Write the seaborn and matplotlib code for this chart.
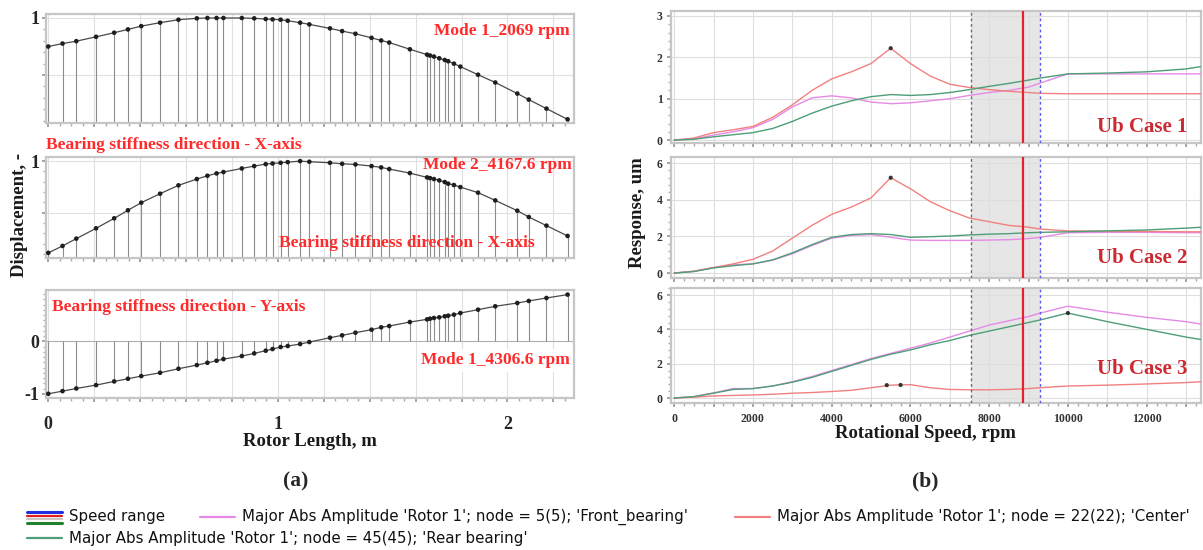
import numpy as np
import pandas as pd
import matplotlib
matplotlib.use("Agg")
import matplotlib.pyplot as plt
from matplotlib.ticker import MultipleLocator, FuncFormatter
from matplotlib.lines import Line2D
from matplotlib import font_manager
import seaborn as sns

# ---------------- data ----------------
# rotor node positions along the shaft (m)
node_pos = [0.000, 0.062, 0.122, 0.208, 0.287, 0.347, 0.405, 0.487, 0.567, 0.647,
            0.693, 0.733, 0.763, 0.843, 0.897, 0.947, 0.977, 1.012, 1.043, 1.097,
            1.137, 1.227, 1.280, 1.338, 1.408, 1.450, 1.485, 1.575, 1.650, 1.663,
            1.680, 1.703, 1.727, 1.742, 1.767, 1.795, 1.872, 1.947, 2.043, 2.093,
            2.170, 2.262]

# normalised mode shapes
mode1_x = [0.750, 0.776, 0.797, 0.835, 0.871, 0.900, 0.929, 0.959, 0.985, 0.997,
           1.000, 1.000, 1.000, 1.000, 0.997, 0.991, 0.988, 0.985, 0.976, 0.959,
           0.944, 0.909, 0.885, 0.862, 0.826, 0.803, 0.785, 0.726, 0.679, 0.671,
           0.662, 0.647, 0.632, 0.621, 0.600, 0.574, 0.503, 0.435, 0.338, 0.285,
           0.206, 0.112]
mode2_x = [0.110, 0.177, 0.248, 0.348, 0.445, 0.523, 0.597, 0.684, 0.765, 0.826,
           0.858, 0.881, 0.894, 0.929, 0.952, 0.971, 0.977, 0.984, 0.990, 1.000,
           0.994, 0.984, 0.974, 0.968, 0.952, 0.939, 0.923, 0.884, 0.842, 0.835,
           0.826, 0.813, 0.797, 0.781, 0.768, 0.748, 0.694, 0.619, 0.519, 0.458,
           0.374, 0.274]
mode1_y = [-1.000, -0.949, -0.898, -0.834, -0.764, -0.713, -0.662, -0.599, -0.522, -0.452,
           -0.408, -0.369, -0.338, -0.280, -0.229, -0.178, -0.146, -0.108, -0.089, -0.051,
           -0.013, 0.070, 0.115, 0.166, 0.223, 0.268, 0.293, 0.369, 0.420, 0.433,
           0.446, 0.459, 0.478, 0.490, 0.510, 0.541, 0.605, 0.669, 0.732, 0.771,
           0.828, 0.892]

mode_labels = ["Mode 1_2069 rpm", "Mode 2_4167.6 rpm", "Mode 1_4306.6 rpm"]

# unbalance response (um) versus rotational speed (rpm)
speed = [0, 500, 1000, 1500, 2000, 2500, 3000, 3500, 4000, 4500, 5000, 5500, 6000,
         6500, 7000, 7500, 8000, 8500, 9000, 9300, 10000, 11000, 12000, 13000, 13400]

case1_front = [0, 0.03, 0.12, 0.20, 0.30, 0.50, 0.80, 1.02, 1.07, 1.02, 0.92, 0.88, 0.90,
               0.95, 1.00, 1.08, 1.15, 1.20, 1.28, 1.38, 1.60, 1.60, 1.60, 1.60, 1.60]
case1_center = [0, 0.05, 0.18, 0.25, 0.33, 0.55, 0.85, 1.20, 1.48, 1.65, 1.85, 2.22, 1.85,
                1.55, 1.35, 1.27, 1.22, 1.18, 1.15, 1.13, 1.12, 1.12, 1.12, 1.12, 1.12]
case1_rear = [0, 0.02, 0.08, 0.13, 0.18, 0.28, 0.45, 0.65, 0.82, 0.95, 1.05, 1.10, 1.08,
              1.10, 1.15, 1.22, 1.30, 1.37, 1.45, 1.50, 1.60, 1.62, 1.65, 1.72, 1.78]

case2_front = [0, 0.10, 0.30, 0.45, 0.50, 0.70, 1.05, 1.50, 1.90, 2.05, 2.10, 1.95, 1.80,
               1.78, 1.78, 1.78, 1.80, 1.82, 1.88, 1.95, 2.20, 2.22, 2.22, 2.20, 2.20]
case2_center = [0, 0.10, 0.30, 0.50, 0.75, 1.20, 1.90, 2.60, 3.20, 3.60, 4.10, 5.20, 4.60,
                3.90, 3.40, 3.00, 2.80, 2.60, 2.50, 2.40, 2.30, 2.28, 2.27, 2.25, 2.25]
case2_rear = [0, 0.08, 0.28, 0.40, 0.50, 0.72, 1.10, 1.55, 1.95, 2.10, 2.15, 2.10, 1.95,
              1.98, 2.02, 2.08, 2.12, 2.15, 2.20, 2.22, 2.25, 2.30, 2.35, 2.45, 2.50]

case3_front = [0, 0.08, 0.30, 0.55, 0.55, 0.70, 0.95, 1.25, 1.60, 1.95, 2.30, 2.60, 2.90,
               3.20, 3.55, 3.90, 4.25, 4.50, 4.75, 4.95, 5.35, 5.00, 4.70, 4.45, 4.30]
case3_center = [0, 0.05, 0.12, 0.15, 0.18, 0.22, 0.28, 0.32, 0.38, 0.45, 0.60, 0.75, 0.78,
                0.60, 0.50, 0.48, 0.48, 0.50, 0.55, 0.60, 0.70, 0.75, 0.82, 0.90, 0.95]
case3_rear = [0, 0.08, 0.28, 0.50, 0.55, 0.70, 0.92, 1.20, 1.55, 1.90, 2.25, 2.55, 2.80,
              3.10, 3.35, 3.65, 3.90, 4.15, 4.40, 4.55, 4.95, 4.45, 4.00, 3.55, 3.40]

# peak markers (rpm, um)
peak1_rpm, peak1_amp = [5500], [2.22]
peak2_rpm, peak2_amp = [5500], [5.20]
peak3_rpm, peak3_amp = [5400, 5750, 10000], [0.75, 0.76, 4.95]

# speed range of interest (rpm)
range_low, range_crit, range_high = 7550, 8850, 9300

case_labels = ["Ub Case 1", "Ub Case 2", "Ub Case 3"]
node_names = ["Front_bearing", "Center", "Rear bearing"]
legend_texts = ["Speed range",
                "Major Abs Amplitude 'Rotor 1'; node = 5(5); 'Front_bearing'",
                "Major Abs Amplitude 'Rotor 1'; node = 22(22); 'Center'",
                "Major Abs Amplitude 'Rotor 1'; node = 45(45); 'Rear bearing'"]

# ---------------- styling ----------------
W, H = 1203, 550
sns.set_theme(style="white")
plt.rcParams["font.family"] = ["Liberation Serif", "DejaVu Serif"]

RED_TXT = "#ff2a2a"
CASE_TXT = "#cc2a33"
palette = {"Front_bearing": "#e58ae5", "Center": "#f28080", "Rear bearing": "#4e9e78"}

fig = plt.figure(figsize=(W / 100, H / 100), dpi=100)


def box(x0, y0, x1, y1):
    return [x0 / W, 1 - y1 / H, (x1 - x0) / W, (y1 - y0) / H]


def ftext(x, y, s, **kw):
    fig.text(x / W, 1 - y / H, s, **kw)


def frame(ax):
    for s in ax.spines.values():
        s.set_color("#c6c6c6")
        s.set_linewidth(1.6)
    ax.set_facecolor("white")


def int_only(v, pos):
    return f"{int(round(v))}" if abs(v - round(v)) < 1e-6 else ""


# ---------------- (a) mode shapes ----------------
left_boxes = [box(46, 14, 574, 123), box(46, 157, 574, 258), box(46, 290, 574, 398)]
left_ylims = [(0.08, 1.035), (0.06, 1.04), (-1.08, 0.98)]
left_vals = [mode1_x, mode2_x, mode1_y]

for i, (bx, yl, vals) in enumerate(zip(left_boxes, left_ylims, left_vals)):
    ax = fig.add_axes(bx)
    frame(ax)
    ax.set_xlim(-0.01, 2.29)
    ax.set_ylim(*yl)
    base = 0.0 if i == 2 else yl[0]
    ax.vlines(node_pos, base, vals, color="#8c8c8c", lw=0.8, zorder=2)
    sns.lineplot(x=node_pos, y=vals, ax=ax, color="#4a4a4a", lw=0.9,
                 sort=False, estimator=None, zorder=3)
    sns.scatterplot(x=node_pos, y=vals, ax=ax, s=11, color="#1e1e1e",
                    edgecolor="none", zorder=4)
    ax.xaxis.set_major_locator(MultipleLocator(0.2))
    ax.xaxis.set_minor_locator(MultipleLocator(0.05))
    ax.xaxis.set_major_formatter(FuncFormatter(int_only))
    if i < 2:
        ax.yaxis.set_major_locator(MultipleLocator(0.5))
        ax.yaxis.set_major_formatter(FuncFormatter(lambda v, p: "1" if abs(v - 1) < 1e-6 else ""))
        ax.grid(True, axis="both", which="major", color="#e0e0e0", lw=0.8)
    else:
        ax.yaxis.set_major_locator(MultipleLocator(1.0))
        ax.yaxis.set_major_formatter(FuncFormatter(int_only))
        ax.grid(True, axis="x", which="major", color="#e0e0e0", lw=0.8)
        ax.axhline(0, color="#b0b0b0", lw=0.8, zorder=1)
    ax.yaxis.set_minor_locator(MultipleLocator(0.1))
    ax.tick_params(axis="both", which="major", length=3, color="#999999",
                   labelsize=13, pad=2, bottom=True, left=True)
    ax.tick_params(axis="both", which="minor", length=2, color="#aaaaaa",
                   bottom=True, left=True)
    for lab in ax.get_xticklabels() + ax.get_yticklabels():
        lab.set_fontweight("bold")
    ax.tick_params(axis="x", labelbottom=(i == 2), pad=10)
    ax.set_xlabel("")
    ax.set_ylabel("")
    if i == 2:
        ax.text(0.71, 0.35, mode_labels[2], transform=ax.transAxes, color=RED_TXT,
                fontsize=12.5, fontweight="bold", ha="left", va="center", zorder=6,
                bbox=dict(facecolor="white", edgecolor="none", pad=2.5))

ftext(570, 31, mode_labels[0], color=RED_TXT, fontsize=12.5, fontweight="bold",
      ha="right", va="center")
ftext(46, 145, "Bearing stiffness direction - X-axis", color=RED_TXT, fontsize=12.5,
      fontweight="bold", ha="left", va="center")
ftext(572, 165, mode_labels[1], color=RED_TXT, fontsize=12.5, fontweight="bold",
      ha="right", va="center")
ftext(279, 243, "Bearing stiffness direction - X-axis", color=RED_TXT, fontsize=12.5,
      fontweight="bold", ha="left", va="center")
ftext(52, 307, "Bearing stiffness direction - Y-axis", color=RED_TXT, fontsize=12.5,
      fontweight="bold", ha="left", va="center")
ftext(20, 215, "Displacement, -", rotation=90, fontsize=13.5, fontweight="bold",
      ha="center", va="center", color="#1a1a1a")
ftext(310, 442, "Rotor Length, m", fontsize=13.5, fontweight="bold",
      ha="center", va="center", color="#1a1a1a")
ftext(296, 481, "(a)", fontsize=15.5, fontweight="bold", ha="center", va="center")

# ---------------- (b) unbalance responses ----------------
right_boxes = [box(671, 11, 1201, 143), box(671, 157, 1201, 278), box(671, 288, 1201, 403)]
right_ylims = [(-0.07, 3.12), (-0.27, 6.33), (-0.29, 6.41)]
right_major = [1, 2, 2]
cases = [(case1_front, case1_center, case1_rear),
         (case2_front, case2_center, case2_rear),
         (case3_front, case3_center, case3_rear)]
peaks = [(peak1_rpm, peak1_amp), (peak2_rpm, peak2_amp), (peak3_rpm, peak3_amp)]
case_text_y = [0.12, 0.165, 0.30]

for i, (bx, yl, series) in enumerate(zip(right_boxes, right_ylims, cases)):
    ax = fig.add_axes(bx)
    frame(ax)
    ax.set_xlim(-80, 13380)
    ax.set_ylim(*yl)
    ax.axvspan(range_low, range_high, color="#e6e6e6", zorder=0, lw=0)
    df = pd.concat([pd.DataFrame({"rpm": speed, "amp": s, "node": n})
                    for s, n in zip(series, node_names)], ignore_index=True)
    sns.lineplot(data=df, x="rpm", y="amp", hue="node", palette=palette, ax=ax,
                 legend=False, lw=1.0, estimator=None, sort=False, zorder=3)
    ax.axvline(range_low, color="#6a6a6a", lw=1.0, ls=(0, (2, 2)), zorder=4)
    ax.axvline(range_high, color="#5a5af0", lw=1.0, ls=(0, (2, 2)), zorder=4)
    ax.axvline(range_crit, color="#e8202a", lw=1.6, zorder=4)
    sns.scatterplot(x=peaks[i][0], y=peaks[i][1], ax=ax, s=9, color="#333333",
                    edgecolor="none", zorder=5)
    ax.xaxis.set_major_locator(MultipleLocator(1000))
    ax.xaxis.set_minor_locator(MultipleLocator(250))
    ax.xaxis.set_major_formatter(FuncFormatter(
        lambda v, p: f"{int(round(v))}" if int(round(v)) % 2000 == 0 else ""))
    ax.yaxis.set_major_locator(MultipleLocator(right_major[i]))
    ax.yaxis.set_minor_locator(MultipleLocator(right_major[i] / 5))
    ax.yaxis.set_major_formatter(FuncFormatter(int_only))
    ax.grid(True, which="major", color="#dedede", lw=0.8)
    ax.tick_params(axis="both", which="major", length=3, color="#999999",
                   labelsize=8.5, labelcolor="#333333", pad=3, bottom=True, left=True)
    ax.tick_params(axis="both", which="minor", length=2, color="#aaaaaa",
                   bottom=True, left=True)
    for lab in ax.get_xticklabels() + ax.get_yticklabels():
        lab.set_fontweight("bold")
    ax.tick_params(axis="x", labelbottom=(i == 2), pad=4)
    ax.set_xlabel("")
    ax.set_ylabel("")
    ax.text(0.975, case_text_y[i], case_labels[i], transform=ax.transAxes,
            color=CASE_TXT, fontsize=15, fontweight="bold", ha="right", va="center",
            zorder=6)

ftext(637, 213, "Response, um", rotation=90, fontsize=13.5, fontweight="bold",
      ha="center", va="center", color="#1a1a1a")
ftext(925, 433, "Rotational Speed, rpm", fontsize=13.5, fontweight="bold",
      ha="center", va="center", color="#1a1a1a")
ftext(925, 481, "(b)", fontsize=15.5, fontweight="bold", ha="center", va="center")

# ---------------- legend ----------------
names = {f.name for f in font_manager.fontManager.ttflist}
if "Liberation Sans Narrow" in names:
    leg_font = dict(family=["Liberation Sans Narrow", "DejaVu Sans"], fontsize=12.5)
else:
    leg_font = dict(family=["DejaVu Sans"], fontsize=10.8)


def fig_line(x0, x1, y, color, lw):
    fig.add_artist(Line2D([x0 / W, x1 / W], [1 - y / H, 1 - y / H], color=color,
                          lw=lw, transform=fig.transFigure))


fig_line(27, 62, 511.5, "#2030e0", 2.2)
fig_line(27, 62, 515.5, "#e02020", 1.6)
fig_line(27, 62, 519.0, "#c8c8c8", 1.6)
fig_line(27, 62, 522.5, "#208030", 2.2)
ftext(69, 517, legend_texts[0], ha="left", va="center", color="#111111", **leg_font)
fig_line(200, 235, 517, palette["Front_bearing"], 1.6)
ftext(242, 517, legend_texts[1], ha="left", va="center", color="#111111", **leg_font)
fig_line(735, 770, 517, palette["Center"], 1.6)
ftext(777, 517, legend_texts[2], ha="left", va="center", color="#111111", **leg_font)
fig_line(27, 62, 538, palette["Rear bearing"], 1.6)
ftext(69, 538, legend_texts[3], ha="left", va="center", color="#111111", **leg_font)

fig.savefig("out.png", dpi=100)
